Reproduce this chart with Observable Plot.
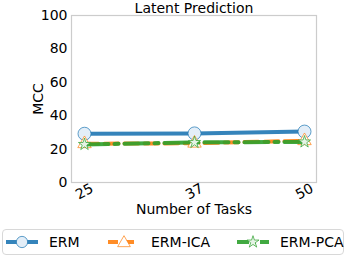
<!DOCTYPE html>
<html><head><meta charset="utf-8">
<script src="https://cdn.jsdelivr.net/npm/d3@7"></script>
<script src="https://cdn.jsdelivr.net/npm/@observablehq/plot@0.6"></script>
<style>
body{margin:0;background:#fff;font-family:"DejaVu Sans",sans-serif;}
#wrap{position:relative;width:346px;height:257px;}
#legend{position:absolute;left:2px;top:229px;width:342px;height:26px;border:1px solid #d8d8d8;border-radius:4px;box-sizing:border-box;}
</style></head><body><div id="wrap"></div>
<script>
const tasks = ["25", "37", "50"];
const seriesNames = ["ERM", "ERM-ICA", "ERM-PCA"];
const ermValues = [29.2, 29.4, 30.5];
const icaValues = [23.2, 23.5, 25.0];
const pcaValues = [22.8, 24.0, 24.3];
const yTicks = [0, 20, 40, 60, 80, 100];
const colors = ["#1f77b4", "#ff7f0e", "#2ca02c"];
const symbols = ["circle", "triangle", "star"];
const fills = ["#e3eef8", "#fff", "#e6f3e6"];
const dashes = [null, "14,6", "24,6,4,6"];

const allValues = [ermValues, icaValues, pcaValues];
const data = [];
seriesNames.forEach((s, i) => tasks.forEach((t, j) => data.push({series: s, task: t, value: allValues[i][j]})));

const marks = [Plot.frame({stroke: "#cccccc", strokeWidth: 1.2})];
const radii = [6.5, 5, 3.8];
seriesNames.forEach((s, i) => {
  const d = data.filter(r => r.series === s);
  marks.push(Plot.line(d, {x: "task", y: "value", stroke: colors[i], strokeWidth: 4, strokeDasharray: dashes[i], strokeOpacity: 0.9}));
  marks.push(Plot.dot(d, {x: "task", y: "value", symbol: () => symbols[i], r: radii[i], stroke: colors[i], fill: fills[i], strokeWidth: 1, strokeOpacity: 0.7}));
});
marks.push(Plot.axisY({ticks: yTicks, tickSize: 0, tickPadding: 4, fontSize: 14, label: "MCC", labelAnchor: "center", labelArrow: "none", labelOffset: 38}));
marks.push(Plot.axisX({tickSize: 0, tickPadding: 9, fontSize: 14, tickRotate: -28, textAnchor: "middle", label: "Number of Tasks", labelAnchor: "center", labelArrow: "none", labelOffset: 31}));
marks.push(Plot.text(["Latent Prediction"], {frameAnchor: "top", dy: -7, lineAnchor: "middle", fontSize: 14, fill: "#000"}));

const chart = Plot.plot({
  width: 346, height: 225,
  marginLeft: 71, marginRight: 30, marginTop: 15, marginBottom: 43,
  style: {fontFamily: "DejaVu Sans", fontSize: "14px", color: "#000", background: "#fff", overflow: "visible"},
  x: {type: "point", domain: tasks, padding: 0.108},
  y: {domain: [0, 100]},
  marks
});
document.getElementById("wrap").appendChild(chart);

// legend
const leg = document.createElement("div");
leg.id = "legend";
const itemX = [4, 106, 235];
const lsvg = d3.create("svg").attr("width", 342).attr("height", 26).style("position","absolute").style("left","-1px").style("top","-1px");
seriesNames.forEach((s, i) => {
  const x0 = itemX[i];
  lsvg.append("line").attr("x1", x0).attr("x2", x0 + 32).attr("y1", 13).attr("y2", 13)
    .attr("stroke", colors[i]).attr("stroke-width", 4).attr("stroke-opacity", 0.9).attr("stroke-dasharray", dashes[i] ? (i===1?"10,6":"12,4,3,4") : null);
  const sym = d3.symbol().type(i === 0 ? d3.symbolCircle : i === 1 ? d3.symbolTriangle : d3.symbolStar).size(i === 0 ? 100 : i === 1 ? 70 : 45);
  lsvg.append("path").attr("d", sym()).attr("transform", `translate(${x0 + 16},${i===1?14:13})`)
    .attr("fill", fills[i]).attr("stroke", colors[i]).attr("stroke-opacity", 0.7);
  lsvg.append("text").attr("x", x0 + 43).attr("y", 18).attr("font-size", 14).attr("fill", "#000").text(s);
});
leg.appendChild(lsvg.node());
document.getElementById("wrap").appendChild(leg);
</script></body></html>
